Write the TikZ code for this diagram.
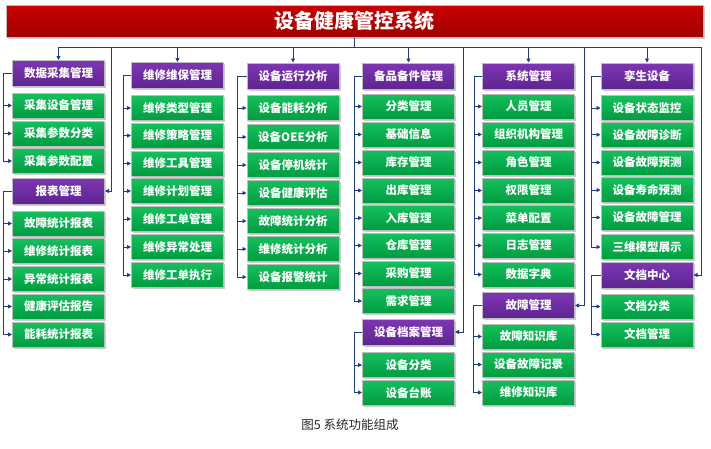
\documentclass[tikz,border=0pt]{standalone}
\usepackage{fontspec}
\setmainfont{Noto Sans CJK SC}
\usetikzlibrary{arrows.meta,shadows}
\definecolor{navy}{HTML}{1F3C88}
\definecolor{boxgray}{HTML}{BDBDBD}
\definecolor{greenA}{HTML}{14C05C}
\definecolor{greenB}{HTML}{009C40}
\definecolor{purpA}{HTML}{7E36B4}
\definecolor{purpB}{HTML}{5E2490}
\definecolor{redA}{HTML}{C80000}
\definecolor{redB}{HTML}{A00000}
\tikzset{
  box/.style={draw=boxgray,line width=1pt,minimum width=92pt,minimum height=25pt,inner sep=0pt,
    font=\fontsize{11.5}{13}\selectfont\bfseries,text=white,
    drop shadow={shadow xshift=1.5pt,shadow yshift=-1.5pt,fill=black!40,opacity=0.5}},
  leaf/.style={box,top color=greenA,bottom color=greenB},
  head/.style={box,top color=purpA,bottom color=purpB,minimum height=26pt},
  conn/.style={draw=navy,line width=0.8pt},
  arr/.style={conn,-{Triangle[length=4pt,width=4pt]}}
}
\begin{document}
\begin{tikzpicture}[x=1pt,y=-1pt]
\useasboundingbox (0,0) rectangle (711,448);
% title
\node[draw=boxgray,line width=1pt,top color=redA,bottom color=redB,minimum width=697pt,minimum height=32pt,
  inner sep=0pt,text=white,font=\fontsize{20}{22}\selectfont\bfseries,
  drop shadow={shadow xshift=1.5pt,shadow yshift=-1.5pt,fill=black!40,opacity=0.5}] (title) at (354.5,21) {设备健康管控系统};
% column 1
\node[head] (h1) at (58.5,73.5) {数据采集管理};
\node[leaf] (a1) at (58.5,105.5) {采集设备管理};
\node[leaf] (a2) at (58.5,133.5) {采集参数分类};
\node[leaf] (a3) at (58.5,161) {采集参数配置};
\node[head] (rep) at (58.5,191) {报表管理};
\node[leaf] (r1) at (58.5,223.5) {故障统计报表};
\node[leaf] (r2) at (58.5,251) {维修统计报表};
\node[leaf] (r3) at (58.5,279) {异常统计报表};
\node[leaf] (r4) at (58.5,306.5) {健康评估报告};
\node[leaf] (r5) at (58.5,334.5) {能耗统计报表};
% column 2
\node[head] (h2) at (177.5,75.5) {维修维保管理};
\node[leaf] (b1) at (177.5,108) {维修类型管理};
\node[leaf] (b2) at (177.5,135.5) {维修策略管理};
\node[leaf] (b3) at (177.5,163.5) {维修工具管理};
\node[leaf] (b4) at (177.5,191) {维修计划管理};
\node[leaf] (b5) at (177.5,219) {维修工单管理};
\node[leaf] (b6) at (177.5,247) {维修异常处理};
\node[leaf] (b7) at (177.5,275) {维修工单执行};
% column 3
\node[head] (h3) at (293,76) {设备运行分析};
\node[leaf] (c1) at (293,108) {设备能耗分析};
\node[leaf] (c2) at (293,137) {设备OEE分析};
\node[leaf] (c3) at (293,165) {设备停机统计};
\node[leaf] (c4) at (293,193) {设备健康评估};
\node[leaf] (c5) at (293,221) {故障统计分析};
\node[leaf] (c6) at (293,249) {维修统计分析};
\node[leaf] (c7) at (293,277) {设备报警统计};
% column 4
\node[head] (h4) at (408.5,76) {备品备件管理};
\node[leaf] (d1) at (408.5,106.5) {分类管理};
\node[leaf] (d2) at (408.5,134.5) {基础信息};
\node[leaf] (d3) at (408.5,162.5) {库存管理};
\node[leaf] (d4) at (408.5,190.5) {出库管理};
\node[leaf] (d5) at (408.5,218) {入库管理};
\node[leaf] (d6) at (408.5,245.5) {仓库管理};
\node[leaf] (d7) at (408.5,273.5) {采购管理};
\node[leaf] (d8) at (408.5,301) {需求管理};
\node[head] (arch) at (408.5,332) {设备档案管理};
\node[leaf] (e1) at (408.5,365) {设备分类};
\node[leaf] (e2) at (408.5,392.5) {设备台账};
% column 5
\node[head] (h5) at (528.5,76) {系统管理};
\node[leaf] (f1) at (528.5,106.5) {人员管理};
\node[leaf] (f2) at (528.5,134.5) {组织机构管理};
\node[leaf] (f3) at (528.5,162.5) {角色管理};
\node[leaf] (f4) at (528.5,190.5) {权限管理};
\node[leaf] (f5) at (528.5,218) {菜单配置};
\node[leaf] (f6) at (528.5,245.5) {日志管理};
\node[leaf] (f7) at (528.5,274.5) {数据字典};
\node[head] (fault) at (528.5,305.5) {故障管理};
\node[leaf] (g1) at (528.5,336.5) {故障知识库};
\node[leaf] (g2) at (528.5,364.5) {设备故障记录};
\node[leaf] (g3) at (528.5,392.5) {维修知识库};
% column 6
\node[head] (h6) at (647,76) {孪生设备};
\node[leaf] (k1) at (647,108) {设备状态监控};
\node[leaf] (k2) at (647,134.7) {设备故障诊断};
\node[leaf] (k3) at (647,162.5) {设备故障预测};
\node[leaf] (k4) at (647,190) {设备寿命预测};
\node[leaf] (k5) at (647,217.5) {设备故障管理};
\node[leaf] (k6) at (647,247) {三维模型展示};
\node[head] (doc) at (647,275) {文档中心};
\node[leaf] (m1) at (647,306.5) {文档分类};
\node[leaf] (m2) at (647,334.5) {文档管理};
% bus
\coordinate (busL) at (58.5,47);
\coordinate (busR) at (701,47);
\coordinate (v1) at (111,47);
\coordinate (v4) at (463,47);
\coordinate (v5) at (584,47);
\draw[conn] (busL) -- (busR);
\draw[conn] (title.south) -- (title.south |- busL);
\foreach \h in {h1,h2,h3,h4,h5,h6} \draw[arr] (\h.north |- busL) -- (\h.north);
\draw[arr] (v1) |- (rep.east);
\draw[arr] (v4) |- (arch.east);
\draw[arr] (v5) |- (fault.east);
\draw[arr] (busR) |- (doc.east);
% brackets
\foreach \c in {a1,a2,a3} \draw[arr] (h1.west) -- ++(-9,0) |- (\c.west);
\foreach \c in {r1,r2,r3,r4,r5} \draw[arr] (rep.west) -- ++(-9,0) |- (\c.west);
\foreach \c in {b1,b2,b3,b4,b5,b6,b7} \draw[arr] (h2.west) -- ++(-8,0) |- (\c.west);
\foreach \c in {c1,c2,c3,c4,c5,c6,c7} \draw[arr] (h3.west) -- ++(-9,0) |- (\c.west);
\foreach \c in {d1,d2,d3,d4,d5,d6,d7,d8} \draw[arr] (h4.west) -- ++(-8,0) |- (\c.west);
\foreach \c in {e1,e2} \draw[arr] (arch.west) -- ++(-8,0) |- (\c.west);
\foreach \c in {f1,f2,f3,f4,f5,f6,f7} \draw[arr] (h5.west) -- ++(-8,0) |- (\c.west);
\foreach \c in {g1,g2,g3} \draw[arr] (fault.west) -- ++(-9,0) |- (\c.west);
\foreach \c in {k1,k2,k3,k4,k5,k6} \draw[arr] (h6.west) -- ++(-9,0) |- (\c.west);
\foreach \c in {m1,m2} \draw[arr] (doc.west) -- ++(-9,0) |- (\c.west);
% caption
\node[font=\fontsize{12.5}{14}\selectfont,text=black!85] (cap) at (350,425) {图5\ 系统功能组成};
\end{tikzpicture}
\end{document}
